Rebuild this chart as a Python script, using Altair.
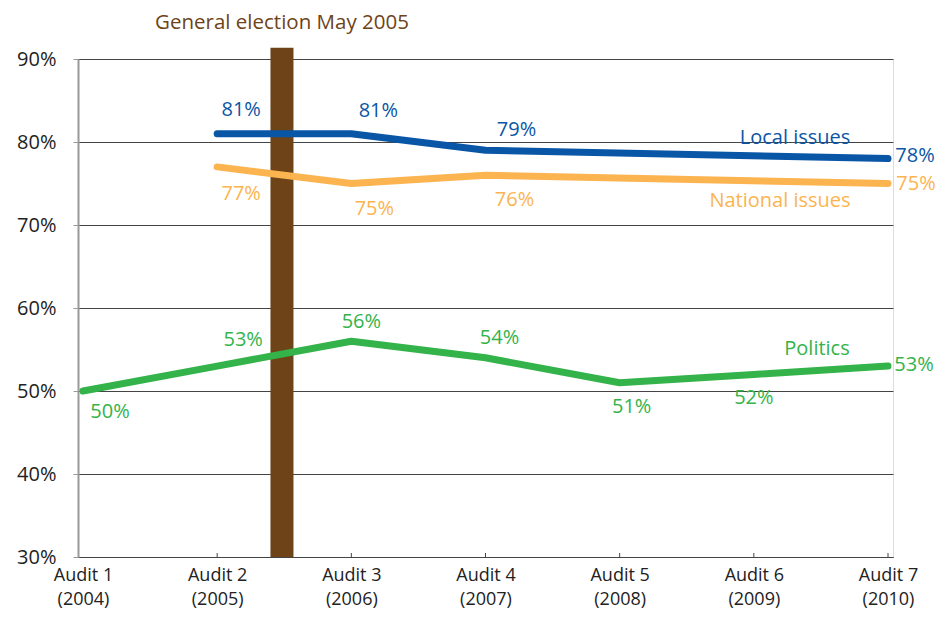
import altair as alt
import pandas as pd

audits = ["Audit 1", "Audit 2", "Audit 3", "Audit 4", "Audit 5", "Audit 6", "Audit 7"]
years = ["(2004)", "(2005)", "(2006)", "(2007)", "(2008)", "(2009)", "(2010)"]
local_issues = [None, 81, 81, 79, None, None, 78]
national_issues = [None, 77, 75, 76, None, None, 75]
politics = [50, 53, 56, 54, 51, 52, 53]
election_label = "General election May 2005"
election_pos = [1.483]
election_top = [91.35]

FONT = "Open Sans"
FS = 20
FW = 400
C_LOCAL = "#0a56a6"
C_NAT = "#fbb450"
C_POL = "#33b34a"
C_BROWN = "#6e4317"

rows = []
for name, vals in [("Local issues", local_issues), ("National issues", national_issues), ("Politics", politics)]:
    for i, v in enumerate(vals):
        if v is not None:
            rows.append({"series": name, "idx": i, "value": v})
df = pd.DataFrame(rows)

W, H = 815, 498
xscale = alt.Scale(domain=[0, 6], nice=False, zero=False)
yscale = alt.Scale(domain=[30, 90], nice=False, zero=False)
colors = alt.Scale(domain=["Local issues", "National issues", "Politics"], range=[C_LOCAL, C_NAT, C_POL])

label_expr = "[" + ",".join("['%s','%s']" % (a, y) for a, y in zip(audits, years)) + "][datum.value]"

base = alt.Chart(df)

bar = alt.Chart(pd.DataFrame({"x": election_pos, "top": election_top, "bottom": [30]})).mark_bar(
    size=23, color=C_BROWN, clip=False
).encode(
    x=alt.X("x:Q", scale=xscale, axis=alt.Axis(
        values=list(range(7)), labelExpr=label_expr, title=None, grid=False,
        domainColor="#444", domainWidth=1.2, ticks=False, labelFont=FONT, labelFontSize=18,
        labelFontWeight=FW, labelColor="#222", labelPadding=9, labelLineHeight=24.5,
        labelAlign="center", labelBaseline="top", labelFlush=False)),
    y=alt.Y("top:Q", scale=yscale, axis=alt.Axis(
        values=[30, 40, 50, 60, 70, 80, 90], labelExpr="datum.value + '%'", title=None,
        grid=True, gridColor="#444", gridWidth=1, domainColor="#999", domainWidth=2,
        tickColor="#999", tickSize=5, labelFont=FONT, labelFontSize=FS, labelFontWeight=FW,
        labelColor="#222", labelPadding=17)),
    y2="bottom:Q",
)

xticks = alt.Chart(pd.DataFrame({"idx": list(range(1, 7))})).mark_rule(color="#444", strokeWidth=1).encode(
    x=alt.X("idx:Q", scale=xscale), y=alt.value(H), y2=alt.value(H - 4)
)

lines = base.mark_line(strokeWidth=7, strokeCap="round", strokeJoin="round").encode(
    x=alt.X("idx:Q", scale=xscale),
    y=alt.Y("value:Q", scale=yscale),
    color=alt.Color("series:N", scale=colors, legend=None),
    detail="series:N",
)

offsets = {
    ("Local issues", 1): (24, -24), ("Local issues", 2): (27, -23),
    ("Local issues", 3): (31, -20), ("Local issues", 6): (27, -3),
    ("National issues", 1): (24, 27), ("National issues", 2): (23, 25),
    ("National issues", 3): (29, 25), ("National issues", 6): (28, 0),
    ("Politics", 0): (27, 21), ("Politics", 1): (26, -26), ("Politics", 2): (10, -19),
    ("Politics", 3): (14, -20), ("Politics", 4): (12, 24), ("Politics", 5): (0, 24),
    ("Politics", 6): (26, -1),
}
col_of = {"Local issues": C_LOCAL, "National issues": C_NAT, "Politics": C_POL}
labels = []
for (s, i), (dx, dy) in offsets.items():
    labels.append(
        base.transform_filter((alt.datum.series == s) & (alt.datum.idx == i))
        .transform_calculate(lab="datum.value + '%'")
        .mark_text(font=FONT, fontSize=FS, fontWeight=FW, color=col_of[s], dx=dx, dy=dy,
                   baseline="middle", align="center")
        .encode(x=alt.X("idx:Q", scale=xscale), y=alt.Y("value:Q", scale=yscale), text="lab:N")
    )

names = [("Local issues", 717, 79), ("National issues", 702, 142), ("Politics", 739, 290)]
name_layers = [
    alt.Chart(pd.DataFrame({"t": [n]})).mark_text(font=FONT, fontSize=FS, fontWeight=FW, color=col_of[n],
                                                  baseline="middle", align="center")
    .encode(x=alt.value(px), y=alt.value(py), text="t:N")
    for n, px, py in names
]

title = alt.Chart(pd.DataFrame({"t": [election_label], "x": election_pos})).mark_text(
    font=FONT, fontSize=20.5, fontWeight=FW, color=C_BROWN, baseline="middle", align="center"
).encode(x=alt.X("x:Q", scale=xscale), y=alt.value(-36), text="t:N")

chart = alt.layer(bar, xticks, lines, *labels, *name_layers, title).properties(
    width=W, height=H,
    autosize=alt.AutoSizeParams(type="none"),
    padding={"left": 70, "top": 51, "right": 45, "bottom": 58},
).configure_view(stroke=None).configure(background="white")

chart.save("out.html", embed_options={"renderer": "svg", "actions": False})
